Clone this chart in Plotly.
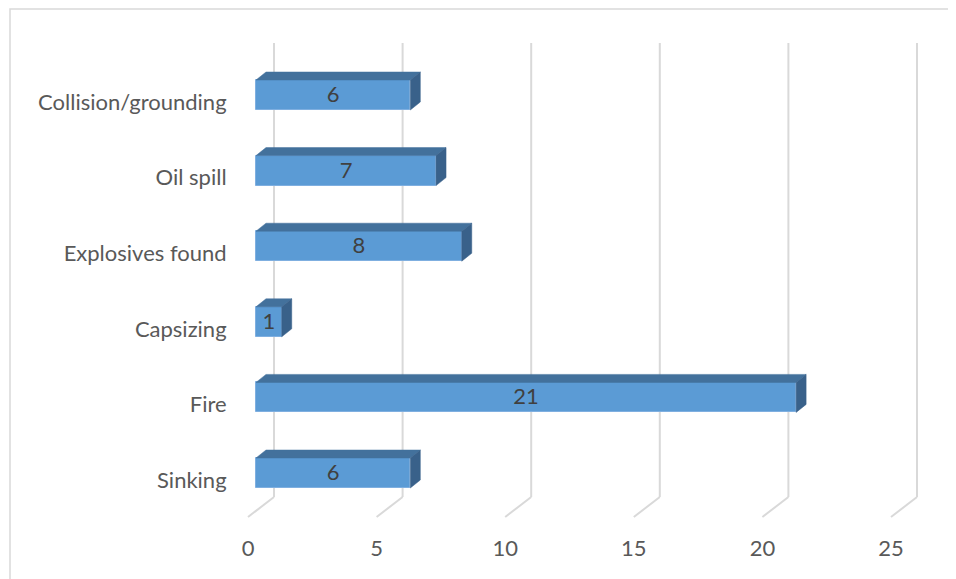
import plotly.graph_objects as go

# ---------------- data ----------------
categories = ["Sinking", "Fire", "Capsizing", "Explosives found", "Oil spill", "Collision/grounding"]
counts = [6, 21, 1, 8, 7, 6]
x_ticks = [0, 5, 10, 15, 20, 25]

# ---------------- styling / geometry (pixels) ----------------
W, H = 956, 579
OFF = 8               # page body margin offset
UX = 25.72            # px per unit along x
UY = 75.6             # px per category row
X0_PX = 248           # px of value 0 on the front floor edge
Y0_PX = 480           # px of the first category row on the front plane
L, R, T, B = 236, 946, 30, 520   # plot-area pixels (screen)

FRONT = "#5B9BD5"
TOP = "#43719C"
SIDE = "#39618A"
GRID = "#D9D9D9"
FONT = "Lato"

def dx(px):
    return px / UX

def dy(px):
    return px / UY

x_range = [(L - X0_PX) / UX, (R - X0_PX) / UX]
y_range = [(Y0_PX - B) / UY, (Y0_PX - T) / UY]

fig = go.Figure()

# ---- 3D wall / floor gridlines (shapes, below traces) ----
grid_top = dy(Y0_PX - 43)
back_bottom = dy(Y0_PX - 497)
front_floor = dy(Y0_PX - 517)
shapes = []
for t in x_ticks:
    shapes.append(dict(type="line", xref="x", yref="y", layer="below",
                       x0=t + dx(26), x1=t + dx(26), y0=grid_top, y1=back_bottom,
                       line=dict(color=GRID, width=2)))
    shapes.append(dict(type="line", xref="x", yref="y", layer="below",
                       x0=t + dx(26), x1=t, y0=back_bottom, y1=front_floor,
                       line=dict(color=GRID, width=2)))

# chart border
shapes.append(dict(type="rect", xref="paper", yref="paper",
                   x0=(10 - L) / (R - L), x1=(W + 20 - L) / (R - L),
                   y0=(B - (H + 20)) / (B - T), y1=(B - 9) / (B - T),
                   line=dict(color=GRID, width=1.5), fillcolor="rgba(0,0,0,0)",
                   layer="below"))

# ---- bars ----
bar_off_x = dx(8)
bar_off_y = dy(7)
half_h = dy(15)
depth_x = dx(10)
depth_y = dy(8)
yc = [i + bar_off_y for i in range(len(categories))]

for i, v in enumerate(counts):
    x0 = bar_off_x
    x1 = bar_off_x + v
    yt = yc[i] + half_h
    yb = yc[i] - half_h
    # top face
    fig.add_trace(go.Scatter(
        x=[x0, x0 + depth_x, x1 + depth_x, x1, x0],
        y=[yt, yt + depth_y, yt + depth_y, yt, yt],
        fill="toself", fillcolor=TOP, mode="lines",
        line=dict(color=TOP, width=0.5), hoverinfo="skip", showlegend=False))
    # side face
    fig.add_trace(go.Scatter(
        x=[x1, x1 + depth_x, x1 + depth_x, x1, x1],
        y=[yt, yt + depth_y, yb + depth_y, yb, yt],
        fill="toself", fillcolor=SIDE, mode="lines",
        line=dict(color=SIDE, width=0.5), hoverinfo="skip", showlegend=False))

# front faces
fig.add_trace(go.Bar(
    x=counts, y=yc, base=bar_off_x, orientation="h",
    width=2 * half_h,
    marker=dict(color=FRONT, line=dict(color="#7FAFE0", width=1)),
    hoverinfo="skip", showlegend=False))

# value labels
fig.add_trace(go.Scatter(
    x=[bar_off_x + v / 2 for v in counts], y=[c - dy(1.5) for c in yc],
    mode="text", text=[str(v) for v in counts],
    textfont=dict(family=FONT, size=22, color="#404040"),
    hoverinfo="skip", showlegend=False))

# ---- layout ----
fig.update_layout(
    width=W, height=H,
    margin=dict(l=L - OFF, r=W - (R - OFF), t=T - OFF, b=H - (B - OFF), pad=0),
    paper_bgcolor="white", plot_bgcolor="white",
    bargap=0,
    font=dict(family=FONT, size=22, color="#595959"),
    xaxis=dict(range=x_range, tickvals=x_ticks, ticktext=[str(t) for t in x_ticks],
               showgrid=False, zeroline=False, showline=False,
               ticks="outside", ticklen=9, tickcolor="rgba(0,0,0,0)",
               tickfont=dict(family=FONT, size=22, color="#595959"), fixedrange=True),
    yaxis=dict(range=y_range, tickvals=list(range(len(categories))), ticktext=categories,
               showgrid=False, zeroline=False, showline=False,
               ticks="outside", ticklen=4, tickcolor="rgba(0,0,0,0)",
               tickfont=dict(family=FONT, size=22, color="#595959"), fixedrange=True),
    shapes=shapes,
)

fig.write_html("out.html")
